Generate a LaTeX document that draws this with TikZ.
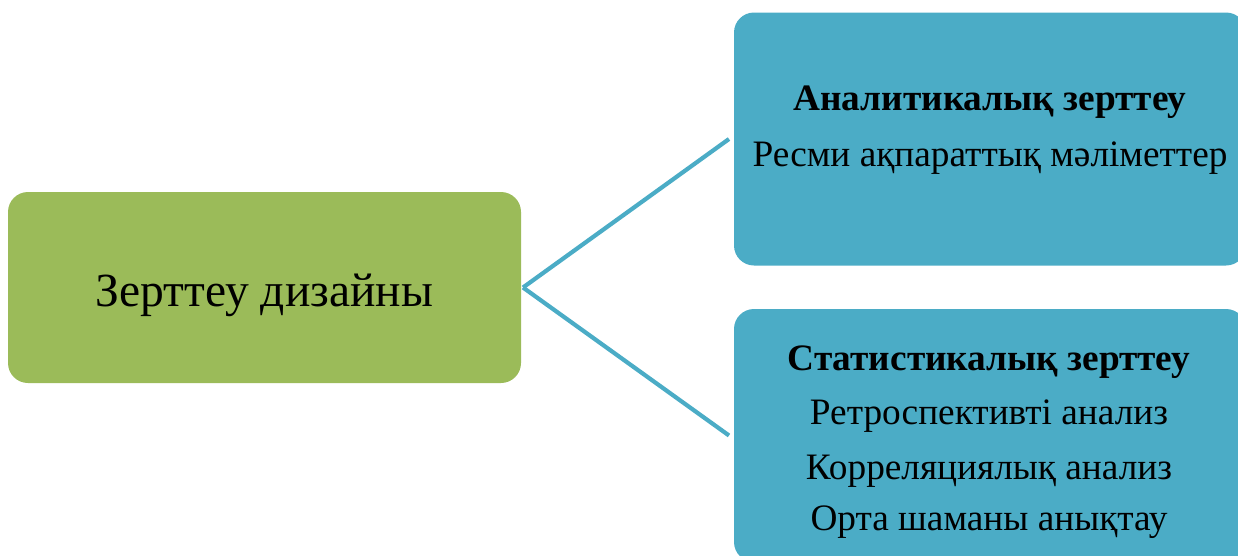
\documentclass[tikz,border=0pt]{standalone}
\usepackage{fontspec}
\setmainfont{Liberation Serif}
\definecolor{grn}{HTML}{9BBB59}
\definecolor{blu}{HTML}{4BACC6}
\begin{document}
\begin{tikzpicture}[x=1pt,y=-1pt,
  box/.style={rounded corners=20pt, inner sep=0pt, outer sep=0pt, draw=none},
  big/.style={font=\fontsize{47.5}{52}\selectfont, anchor=base, inner sep=0pt},
  txt/.style={font=\fontsize{37.3}{42}\selectfont, anchor=base, inner sep=0pt},
  btxt/.style={font=\fontsize{37.3}{42}\selectfont\bfseries, anchor=base, inner sep=0pt},
  conn/.style={draw=blu, line width=4.2pt}]
\useasboundingbox (0,0) rectangle (1238,555);
\node[box, fill=grn, minimum width=513pt, minimum height=191pt] (root) at (264.5,287.5) {};
\node[box, fill=blu, minimum width=512pt, minimum height=253pt] (top) at (990,139) {};
\node[box, fill=blu, minimum width=512pt, minimum height=253pt] (bot) at (990,435.5) {};
\draw[conn] ([xshift=2pt]root.east) -- ([xshift=-5pt]top.west);
\draw[conn] ([xshift=2pt]root.east) -- ([xshift=-5pt]bot.west);
\node[big] (rl) at (264.5,306) {Зерттеу дизайны};
\node[btxt] (t1) at (990,110) {Аналитикалық зерттеу};
\node[txt] (t2) at (990,166) {Ресми ақпараттық мәліметтер};
\node[btxt] (b1) at (989,370) {Статистикалық зерттеу};
\node[txt] (b2) at (989,424) {Ретроспективті анализ};
\node[txt] (b3) at (989,479) {Корреляциялық анализ};
\node[txt] (b4) at (989,530) {Орта шаманы анықтау};
\end{tikzpicture}
\end{document}
